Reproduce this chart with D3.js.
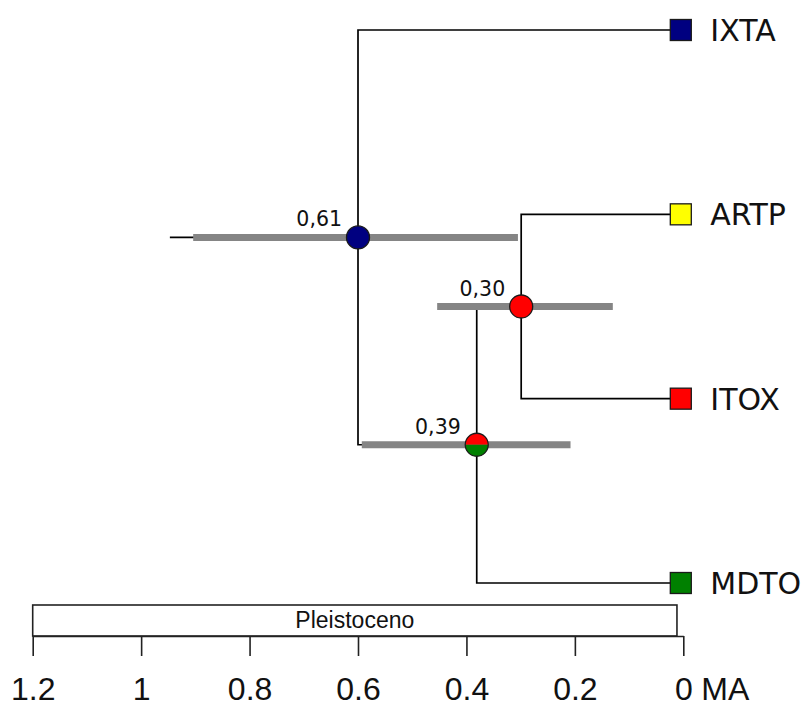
<!DOCTYPE html>
<html lang="en">
  <head>
    <meta charset="utf-8">
    <title>Tree with ancestral areas</title>
    <script src="https://cdn.jsdelivr.net/npm/d3@7"></script>
    <style>
      body { margin: 0; background: #fff; }
      .edge { fill: none; stroke: #000; stroke-width: 1.7px; }
      .hpd { stroke: #858585; stroke-width: 7px; }
      .pie-ring { fill: none; stroke: #1a1a1a; stroke-width: 1.3px; }
      .tip-box { stroke: #1a1a1a; stroke-width: 1.3px; }
      .tip-label { font: 30px "DejaVu Sans", sans-serif; fill: #111; }
      .node-label { font: 20.5px "DejaVu Sans", sans-serif; fill: #111; }
      .epoch rect { fill: #fff; stroke: #222; stroke-width: 1.6px; }
      .epoch text { font: 23px "Liberation Sans", sans-serif; fill: #111; }
      .axis path, .axis line { stroke: #222; stroke-width: 1.6px; }
      .axis text, .unit { font: 32px "Liberation Sans", sans-serif; fill: #111; }
    </style>
  </head>
  <body>
    <svg id="chart" width="806" height="708"></svg>
    <script>
      // ---- data ----
      var states = ["IXTA", "ARTP", "ITOX", "MDTO"];
      var stateColors = ["#000080", "#ffff00", "#ff0000", "#008000"];

      var tipNames = ["IXTA", "ARTP", "ITOX", "MDTO"];
      var tipParents = ["n1", "n3", "n3", "n2"];
      var tipAges = [0, 0, 0, 0];

      var nodeNames = ["n1", "n2", "n3"];
      var nodeParents = ["", "n1", "n2"];
      var nodeAges = [0.600, 0.381, 0.299];
      var nodeLabels = ["0,61", "0,39", "0,30"];
      var hpdOld = [0.904, 0.593, 0.454];
      var hpdYoung = [0.305, 0.208, 0.130];
      // probabilities per state, in the order of `states`
      var nodeProbs = [[1, 0, 0, 0], [0, 0, 0.5, 0.5], [0, 0, 1, 0]];
      var rootStemAge = 0.947;

      var epochNames = ["Pleistoceno"];
      var epochOld = [1.2];
      var epochYoung = [0.0117];

      var tickValues = [1.2, 1, 0.8, 0.6, 0.4, 0.2, 0];
      var axisUnit = "MA";

      // ---- layout ----
      var svg = d3.select("#chart");

      var x = d3.scaleLinear().domain([1.2, 0]).range([32.7, 683.3]);
      var y = d3.scaleLinear().domain([0, tipNames.length - 1]).range([30, 583]);
      var color = d3.scaleOrdinal().domain(states).range(stateColors);

      var rows = nodeNames.map(function(n, i) {
        return {id: n, parent: nodeParents[i], age: nodeAges[i], idx: i, tip: false};
      }).concat(tipNames.map(function(n, i) {
        return {id: n, parent: tipParents[i], age: tipAges[i], idx: i, tip: true};
      }));

      var root = d3.stratify()
        .id(function(d) { return d.id; })
        .parentId(function(d) { return d.parent || null; })
        (rows);

      root.eachAfter(function(d) {
        d.px = x(d.data.age);
        if (d.data.tip) d.py = y(d.data.idx);
        else d.py = d3.mean(d.children, function(c) { return c.py; });
      });

      // root stem
      svg.append("line")
        .attr("class", "edge")
        .attr("x1", x(rootStemAge)).attr("x2", root.px)
        .attr("y1", root.py).attr("y2", root.py);

      // edges
      svg.append("g").selectAll("path")
        .data(root.descendants().filter(function(d) { return d.parent; }))
        .join("path")
        .attr("class", "edge")
        .attr("d", function(d) {
          return "M" + d.parent.px + "," + d.parent.py + "V" + d.py + "H" + d.px;
        });

      var inner = root.descendants().filter(function(d) { return !d.data.tip; });

      // age intervals
      svg.append("g").selectAll("line")
        .data(inner)
        .join("line")
        .attr("class", "hpd")
        .attr("x1", function(d) { return x(hpdOld[d.data.idx]); })
        .attr("x2", function(d) { return x(hpdYoung[d.data.idx]); })
        .attr("y1", function(d) { return d.py; })
        .attr("y2", function(d) { return d.py; });

      // node labels
      svg.append("g").selectAll("text")
        .data(inner)
        .join("text")
        .attr("class", "node-label")
        .attr("text-anchor", "end")
        .attr("x", function(d) { return d.px - 16; })
        .attr("y", function(d) { return d.py - 11; })
        .text(function(d) { return nodeLabels[d.data.idx]; });

      // node pies
      var pie = d3.pie().sort(null).value(function(v) { return v; })
        .startAngle(Math.PI / 2).endAngle(Math.PI / 2 - 2 * Math.PI);
      var arc = d3.arc().innerRadius(0).outerRadius(11.5);

      var pies = svg.append("g").selectAll("g")
        .data(inner)
        .join("g")
        .attr("transform", function(d) { return "translate(" + d.px + "," + d.py + ")"; });

      pies.selectAll("path")
        .data(function(d) { return pie(nodeProbs[d.data.idx]); })
        .join("path")
        .attr("d", arc)
        .attr("fill", function(p, i) { return color(states[i]); });

      pies.append("circle").attr("class", "pie-ring").attr("r", 11.5);

      // tips
      var tips = root.leaves();
      svg.append("g").selectAll("rect")
        .data(tips)
        .join("rect")
        .attr("class", "tip-box")
        .attr("x", function(d) { return d.px - 13; })
        .attr("y", function(d) { return d.py - 10.5; })
        .attr("width", 21).attr("height", 21)
        .attr("fill", function(d) { return color(d.data.id); });

      svg.append("g").selectAll("text")
        .data(tips)
        .join("text")
        .attr("class", "tip-label")
        .attr("x", function(d) { return d.px + 27; })
        .attr("y", function(d) { return d.py + 11; })
        .text(function(d) { return d.data.id; });

      // epoch bar
      var epochs = svg.append("g").attr("class", "epoch").selectAll("g")
        .data(epochNames)
        .join("g");
      epochs.append("rect")
        .attr("x", function(d, i) { return x(epochOld[i]); })
        .attr("width", function(d, i) { return x(epochYoung[i]) - x(epochOld[i]); })
        .attr("y", 605).attr("height", 31);
      epochs.append("text")
        .attr("text-anchor", "middle")
        .attr("x", function(d, i) { return (x(epochYoung[i]) + x(epochOld[i])) / 2; })
        .attr("y", 628)
        .text(function(d) { return d; });

      // time axis
      var axis = d3.axisBottom(x)
        .tickValues(tickValues)
        .tickFormat(d3.format("~g"))
        .tickSizeInner(20)
        .tickSizeOuter(0)
        .tickPadding(21);

      var gAxis = svg.append("g")
        .attr("class", "axis")
        .attr("transform", "translate(0,636)")
        .call(axis);
      gAxis.selectAll("text").attr("fill", "#111");

      svg.append("text")
        .attr("class", "unit")
        .attr("x", x(0) + 18)
        .attr("y", 700)
        .text(axisUnit);
    </script>
  </body>
</html>
